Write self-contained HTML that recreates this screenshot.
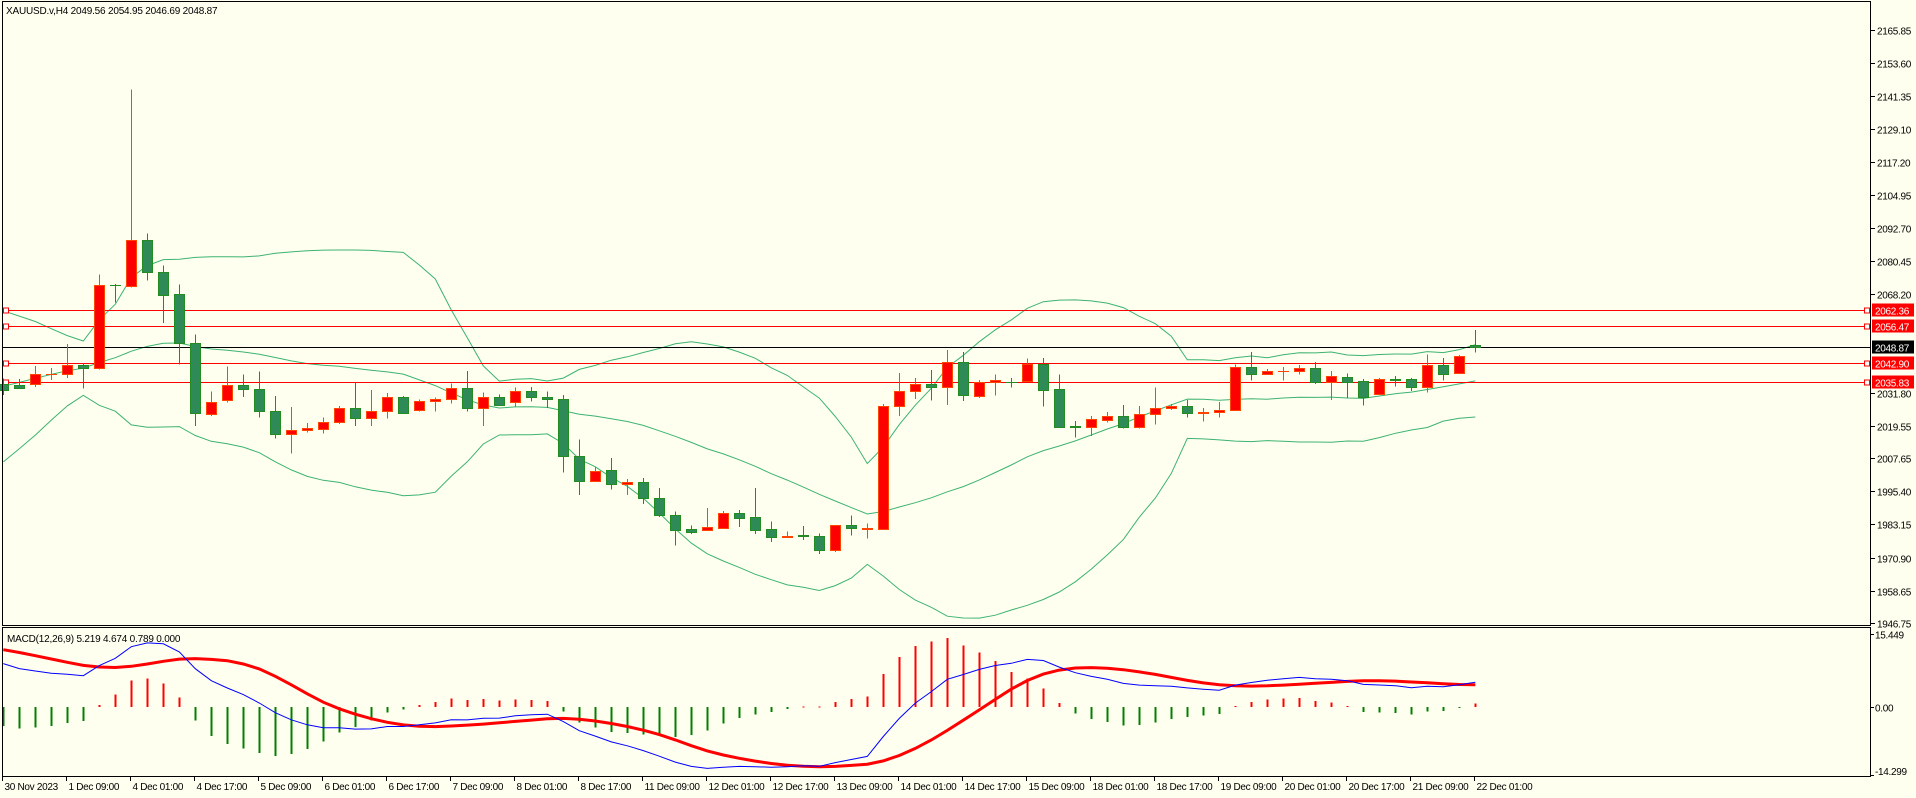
<!DOCTYPE html>
<html><head><meta charset="utf-8"><style>
html,body{margin:0;padding:0;background:#fffff0;}
svg{display:block;font-family:"Liberation Sans",sans-serif;}
</style></head><body>
<svg id="chart" width="1916" height="798" viewBox="0 0 1916 798" xmlns="http://www.w3.org/2000/svg" shape-rendering="crispEdges">
<defs><clipPath id="macdClip"><rect x="3" y="628" width="1867" height="148"/></clipPath></defs>
<rect x="0" y="0" width="1916" height="798" fill="#fffff0"/>
<g id="main"></g>
<g id="macd" clip-path="url(#macdClip)"></g>
<g id="axes"></g>
<text x="6" y="14" font-size="10" letter-spacing="-0.2" fill="#000">XAUUSD.v,H4  2049.56 2054.95 2046.69 2048.87</text>
<text x="7" y="642" font-size="10" letter-spacing="-0.2" fill="#000">MACD(12,26,9) 5.219 4.674 0.789 0.000</text>
</svg>
<script>
const opens=[2035.0,2034.8,2035.0,2038.6,2038.7,2042.0,2040.9,2071.8,2071.1,2088.3,2076.5,2068.3,2050.1,2024.1,2029.3,2034.8,2033.2,2025.0,2016.5,2018.0,2018.4,2020.9,2026.2,2022.4,2025.0,2030.2,2025.4,2028.7,2029.4,2033.5,2026.2,2030.3,2028.3,2032.4,2030.3,2029.4,2008.3,1999.1,2003.2,1998.0,1998.7,1992.8,1986.5,1981.3,1981.2,1981.9,1987.3,1985.8,1981.3,1978.6,1979.4,1979.0,1973.7,1982.8,1981.6,1981.6,2026.8,2032.4,2035.0,2033.9,2043.1,2030.8,2035.9,2035.9,2036.0,2042.6,2033.2,2019.5,2019.2,2021.7,2023.2,2019.0,2023.8,2026.2,2026.9,2024.4,2024.6,2025.4,2041.3,2038.7,2039.7,2039.9,2041.0,2035.8,2037.7,2036.1,2031.3,2036.9,2036.9,2033.9,2042.0,2039.1,2049.56];
const highs=[2037.0,2036.9,2041.7,2040.9,2049.8,2042.8,2075.5,2072.0,2143.9,2090.6,2078.8,2071.8,2053.3,2032.2,2041.5,2038.5,2039.6,2030.7,2026.6,2020.6,2022.7,2027.0,2035.6,2032.8,2031.7,2030.7,2029.4,2030.1,2035.3,2039.9,2031.9,2031.1,2033.7,2034.0,2032.2,2030.9,2014.6,2004.4,2007.7,1999.9,2000.3,1996.6,1987.9,1982.8,1989.2,1988.1,1988.5,1996.6,1984.3,1980.5,1982.5,1979.9,1982.8,1986.5,1983.6,2027.6,2039.1,2037.3,2040.2,2047.6,2046.8,2036.6,2038.5,2037.3,2044.4,2044.7,2038.5,2021.4,2023.3,2024.8,2027.3,2026.9,2033.7,2027.6,2029.2,2026.2,2028.4,2042.2,2046.8,2040.6,2041.4,2042.1,2043.2,2039.9,2038.9,2036.9,2037.2,2038.0,2037.2,2045.9,2044.7,2045.7,2054.95];
const lows=[2031.0,2033.2,2034.0,2036.6,2037.2,2033.4,2040.5,2065.2,2070.8,2073.3,2057.5,2042.2,2019.6,2023.3,2028.2,2030.2,2022.7,2014.9,2009.4,2017.1,2016.7,2020.2,2019.6,2019.6,2022.3,2024.3,2024.9,2024.9,2027.9,2024.9,2019.6,2027.1,2026.6,2028.6,2026.2,2002.3,1994.1,1999.1,1996.0,1994.1,1990.8,1985.9,1975.3,1979.7,1981.2,1981.5,1982.2,1979.7,1976.7,1978.6,1977.5,1972.3,1973.0,1979.0,1977.9,1981.2,2023.3,2029.6,2029.0,2027.3,2028.7,2029.8,2030.8,2033.8,2036.0,2026.7,2019.3,2015.3,2015.9,2020.8,2018.6,2018.6,2020.0,2025.4,2022.7,2021.2,2022.7,2025.1,2036.3,2038.3,2036.3,2038.6,2035.0,2029.2,2029.8,2027.1,2031.1,2034.2,2032.5,2031.9,2036.3,2039.0,2046.69];
const closes=[2033.0,2033.6,2038.7,2038.8,2042.0,2040.9,2071.7,2071.6,2088.3,2076.3,2068.1,2050.1,2024.3,2028.3,2034.8,2033.1,2024.9,2016.5,2018.0,2018.8,2021.1,2026.2,2022.4,2025.0,2030.2,2024.5,2028.7,2029.4,2033.5,2026.2,2030.2,2027.3,2032.4,2030.2,2029.4,2008.3,1999.1,2002.8,1998.0,1998.7,1992.8,1986.5,1981.2,1980.2,1982.1,1987.3,1985.6,1981.2,1978.6,1978.8,1979.0,1973.7,1982.8,1981.7,1981.8,2026.8,2032.4,2035.0,2033.9,2043.1,2031.1,2035.8,2036.4,2035.7,2042.6,2033.0,2019.3,2019.3,2022.0,2023.2,2019.0,2023.9,2026.2,2026.9,2024.2,2024.8,2025.4,2041.3,2038.6,2039.8,2039.9,2041.0,2035.8,2038.1,2035.8,2030.1,2036.9,2036.7,2033.9,2042.0,2038.8,2045.4,2048.87];
// closes before the visible window (needed for indicator warm-up)
const priorCloses=[1990,1994,1998,1996,2000,1999,1997,1995,1992,1990,1993,1995,1998,2001,2000,2002,1999,2001,2003,2000,2002,2005,2008,2010,2015,2022,2030,2036,2040,2041,2045,2048,2050,2047,2044,2046,2042,2040,2043,2039];
const timeLabels=["30 Nov 2023","1 Dec 09:00","4 Dec 01:00","4 Dec 17:00","5 Dec 09:00","6 Dec 01:00","6 Dec 17:00","7 Dec 09:00","8 Dec 01:00","8 Dec 17:00","11 Dec 09:00","12 Dec 01:00","12 Dec 17:00","13 Dec 09:00","14 Dec 01:00","14 Dec 17:00","15 Dec 09:00","18 Dec 01:00","18 Dec 17:00","19 Dec 09:00","20 Dec 01:00","20 Dec 17:00","21 Dec 09:00","22 Dec 01:00"];
const priceTicks=[2165.85,2153.60,2141.35,2129.10,2117.20,2104.95,2092.70,2080.45,2068.20,2031.80,2019.55,2007.65,1995.40,1983.15,1970.90,1958.65,1946.75];
const levelLines=[2062.36,2056.47,2042.90,2035.83];
const bidPrice=2048.87;
const macdTicks=[15.449,0,-14.299];

const NS="http://www.w3.org/2000/svg";
function mk(parent,tag,attrs){const e=document.createElementNS(NS,tag);for(const k in attrs)e.setAttribute(k,attrs[k]);parent.appendChild(e);return e;}
const X=i=>3.3+16*i;
const Y=p=>30+(2165.85-p)*2.7065;
const MY=v=>707-v*(73/15.449);
const FS=10, LS=-0.3;
const main=document.getElementById('main'),macdG=document.getElementById('macd'),axes=document.getElementById('axes');

// Bollinger bands (20,2)
const all=priorCloses.concat(closes);const off=priorCloses.length;
const up=[],mid=[],lo=[];
for(let i=0;i<closes.length;i++){const s=all.slice(off+i-19,off+i+1);const m=s.reduce((a,b)=>a+b,0)/20;const sd=Math.sqrt(s.reduce((a,b)=>a+(b-m)*(b-m),0)/20);up.push(m+2*sd);mid.push(m);lo.push(m-2*sd);}
[[up,'bollinger-upper'],[mid,'bollinger-middle'],[lo,'bollinger-lower']].forEach(([arr,n])=>{
 const pl=mk(main,'polyline',{points:arr.map((v,i)=>X(i).toFixed(1)+','+Y(v).toFixed(1)).join(' '),fill:'none',stroke:'#3cb371','stroke-width':1,'shape-rendering':'auto'});
 
 
});

// level lines
levelLines.forEach((p,k)=>{const y=Math.round(Y(p))+0.5;
 const l=mk(main,'line',{x1:3,x2:1870,y1:y,y2:y,stroke:'#ff0000','stroke-width':1});
 
 
 mk(main,'rect',{x:3.5,y:y-2.5,width:5,height:5,fill:'#fff',stroke:'#ff0000'});
 mk(main,'rect',{x:1864.5,y:y-2.5,width:5,height:5,fill:'#fff',stroke:'#ff0000'});
 const b=mk(axes,'rect',{x:1872,y:y-7,width:42,height:13,fill:'#ff0000'});
 
 
 const t=mk(axes,'text',{x:1875,y:y+4,'font-size':FS,'letter-spacing':LS,fill:'#fff'});t.textContent=p.toFixed(2);
 
 
});
{const y=Math.round(Y(bidPrice))+0.5;
 const l=mk(main,'line',{x1:3,x2:1870,y1:y,y2:y,stroke:'#000','stroke-width':1});
 
 
 mk(axes,'rect',{x:1872,y:y-7,width:42,height:13,fill:'#000'});
 const t=mk(axes,'text',{x:1875,y:y+4,'font-size':FS,'letter-spacing':LS,fill:'#fff'});t.textContent=bidPrice.toFixed(2);
 
 
}

// candles
closes.forEach((c,i)=>{const o=opens[i],bull=c>=o;const x=Math.round(X(i));
 const col=bull?'#ff4500':'#228b22',fill=bull?'#ff0000':'#2e8b57';
 const g=mk(main,'g',{});
 
 
 mk(g,'line',{x1:x+0.5,x2:x+0.5,y1:Y(highs[i]),y2:Y(lows[i]),stroke:col});
 const t=Math.round(Y(Math.max(o,c))),b=Math.round(Y(Math.min(o,c)));
 if(b-t<1){mk(g,'line',{x1:x-5,x2:x+6,y1:t+0.5,y2:t+0.5,stroke:col});}
 else mk(g,'rect',{x:x-4.5,y:t+0.5,width:10,height:b-t,fill:fill,stroke:col});
});

// MACD
function ema(arr,n){const k=2/(n+1);const r=[arr[0]];for(let i=1;i<arr.length;i++)r.push(arr[i]*k+r[i-1]*(1-k));return r;}
const e12=ema(all,12),e26=ema(all,26);const mainAll=e12.map((v,i)=>v-e26[i]);
const sigAll=mainAll.map((v,i)=>{const s=mainAll.slice(Math.max(0,i-8),i+1);return s.reduce((a,b)=>a+b,0)/s.length;});
const macdMain=mainAll.slice(off),macdSig=sigAll.slice(off);
macdMain.forEach((v,i)=>{const h=(v-macdSig[i])*1.35;const x=Math.round(X(i));
 const r=mk(macdG,'rect',{x:x-0.5,y:Math.min(MY(0),MY(h)),width:2,height:Math.max(1,Math.abs(MY(h)-MY(0))),fill:h>=0?'#ff0000':'#008000'});
 
 
});
{const s=mk(macdG,'polyline',{points:macdSig.map((v,i)=>X(i).toFixed(1)+','+MY(v).toFixed(1)).join(' '),fill:'none',stroke:'#ff0000','stroke-width':3,'shape-rendering':'auto'});
 
 
 const m=mk(macdG,'polyline',{points:macdMain.map((v,i)=>X(i).toFixed(1)+','+MY(v).toFixed(1)).join(' '),fill:'none',stroke:'#0000ff','stroke-width':1,'shape-rendering':'auto'});
 
 
}

// frames
{const f1=mk(axes,'rect',{x:2.5,y:1.5,width:1868,height:624,fill:'none',stroke:'#000'});
 
 
 const f2=mk(axes,'rect',{x:2.5,y:627.5,width:1868,height:149,fill:'none',stroke:'#000'});
 
 
}
priceTicks.forEach(p=>{const y=Math.round(Y(p))+0.5;
 mk(axes,'line',{x1:1871,x2:1875,y1:y,y2:y,stroke:'#000'});
 const t=mk(axes,'text',{x:1877,y:y+4,'font-size':FS,'letter-spacing':LS,fill:'#000'});t.textContent=p.toFixed(2);
 
 
});
macdTicks.forEach(v=>{const y=Math.round(MY(v))+0.5;
 mk(axes,'line',{x1:1871,x2:1874,y1:y,y2:y,stroke:'#000'});
 const t=mk(axes,'text',{x:1875,y:Math.min(775,Math.max(638,y+4)),'font-size':FS,'letter-spacing':LS,fill:'#000'});t.textContent=v===0?'0.00':v.toFixed(3);
 
 
});
timeLabels.forEach((s,k)=>{const x=Math.round(X(k*4))-1+0.5;
 mk(axes,'line',{x1:x,x2:x,y1:777,y2:781,stroke:'#000'});
 const t=mk(axes,'text',{x:x+2,y:790,'font-size':FS,'letter-spacing':LS,fill:'#000'});t.textContent=s;
 
 
});
</script>
</body></html>
